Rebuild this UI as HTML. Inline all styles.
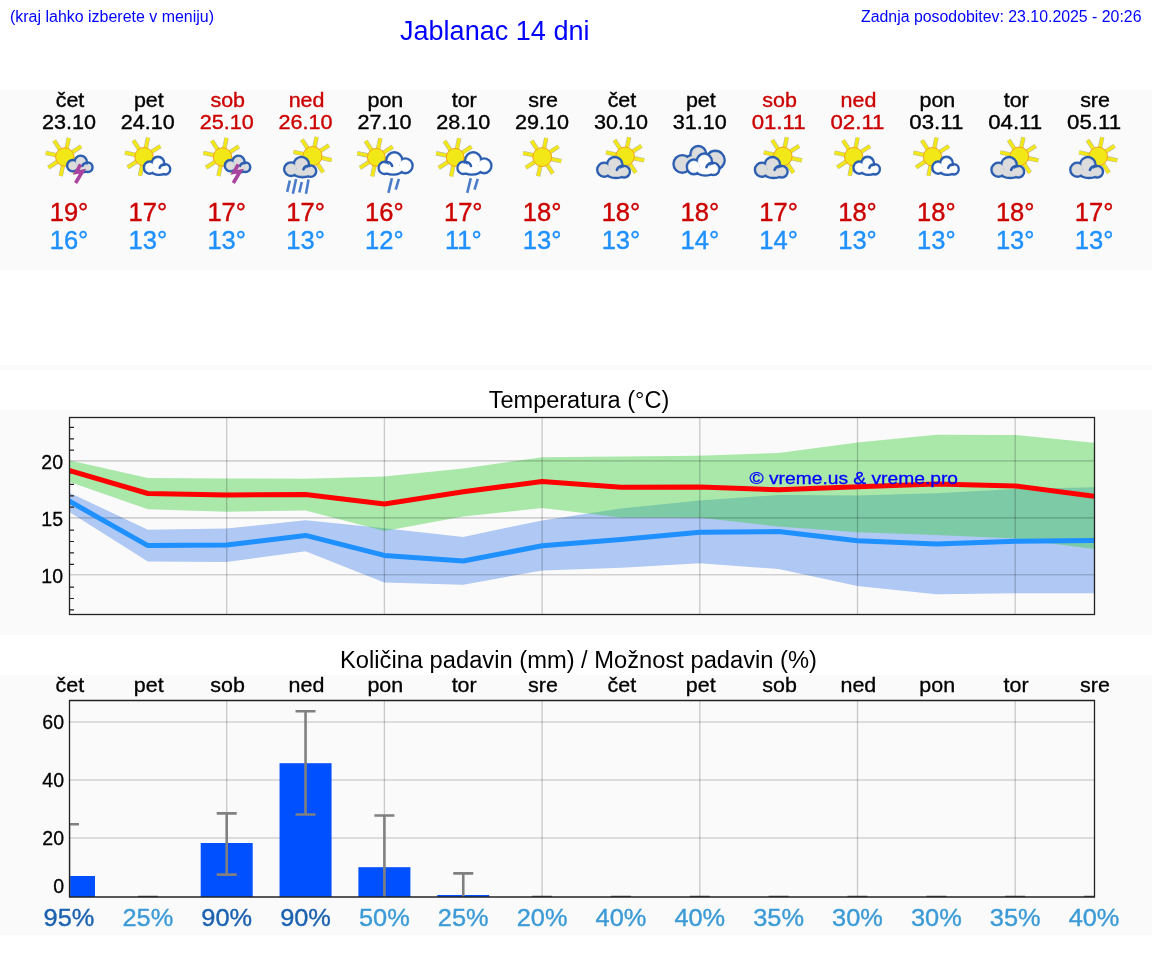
<!DOCTYPE html><html><head><meta charset="utf-8"><title>Jablanac 14 dni</title><style>html,body{margin:0;padding:0;background:#fff;overflow:hidden}svg{display:block;will-change:transform}</style></head><body>
<svg width="1152" height="975" viewBox="0 0 1152 975" font-family="Liberation Sans, sans-serif">
<defs><g id="ic0"><path d="M27.26 17.81L37.15 11.38M22.40 14.47L24.85 2.93M16.61 15.54L10.18 5.65M13.27 20.40L1.73 17.95M14.34 26.19L4.45 32.62M19.20 29.53L16.75 41.07M24.99 28.46L31.42 38.35M28.33 23.60L39.87 26.05" stroke="#8f8d70" stroke-width="4.4" stroke-opacity="0.6"/><path d="M27.26 17.81L37.15 11.38M22.40 14.47L24.85 2.93M16.61 15.54L10.18 5.65M13.27 20.40L1.73 17.95M14.34 26.19L4.45 32.62M19.20 29.53L16.75 41.07M24.99 28.46L31.42 38.35M28.33 23.60L39.87 26.05" stroke="#f2e817" stroke-width="3.3"/><circle cx="20.8" cy="22" r="9.2" fill="#f2e817" stroke="#f5a31a" stroke-width="1"/><g transform="translate(22.80,20.30) scale(0.7618,0.7655)"><circle cx="7.8" cy="13.6" r="5.60" fill="#dcdcdc" stroke="#2a5db0" stroke-width="6.81"/><circle cx="18.3" cy="8.6" r="6.30" fill="#dcdcdc" stroke="#2a5db0" stroke-width="6.81"/><circle cx="27.6" cy="15.6" r="4.40" fill="#dcdcdc" stroke="#2a5db0" stroke-width="6.81"/><ellipse cx="19.5" cy="16.5" rx="8.50" ry="4.00" fill="#dcdcdc" stroke="#2a5db0" stroke-width="6.81"/><circle cx="7.8" cy="13.6" r="5.60" fill="#dcdcdc" stroke="#dcdcdc" stroke-width="0.5"/><circle cx="18.3" cy="8.6" r="6.30" fill="#dcdcdc" stroke="#dcdcdc" stroke-width="0.5"/><circle cx="27.6" cy="15.6" r="4.40" fill="#dcdcdc" stroke="#dcdcdc" stroke-width="0.5"/><ellipse cx="19.5" cy="16.5" rx="8.50" ry="4.00" fill="#dcdcdc" stroke="#dcdcdc" stroke-width="0.5"/><path d="M26.6 10.2A5.3 5.3 0 0 0 20.4 13.8" fill="none" stroke="#2a5db0" stroke-width="3.40" stroke-linecap="round"/></g><path d="M36.6 29.3 L32.2 37.4 L38.6 36.2 L31.6 48" fill="none" stroke="#a8439f" stroke-width="3.6" stroke-linejoin="miter" stroke-miterlimit="3"/></g><g id="ic1"><path d="M27.61 17.51L37.50 11.08M22.75 14.17L25.20 2.63M16.96 15.24L10.53 5.35M13.62 20.10L2.08 17.65M14.69 25.89L4.80 32.32M19.55 29.23L17.10 40.77M25.34 28.16L31.77 38.05M28.68 23.30L40.22 25.75" stroke="#8f8d70" stroke-width="4.4" stroke-opacity="0.6"/><path d="M27.61 17.51L37.50 11.08M22.75 14.17L25.20 2.63M16.96 15.24L10.53 5.35M13.62 20.10L2.08 17.65M14.69 25.89L4.80 32.32M19.55 29.23L17.10 40.77M25.34 28.16L31.77 38.05M28.68 23.30L40.22 25.75" stroke="#f2e817" stroke-width="3.3"/><circle cx="21.15" cy="21.7" r="9.2" fill="#f2e817" stroke="#f5a31a" stroke-width="1"/><g transform="translate(20.60,21.20) scale(0.7941,0.8407)"><circle cx="7.8" cy="13.6" r="5.60" fill="#ffffff" stroke="#2a5db0" stroke-width="6.36"/><circle cx="18.3" cy="8.6" r="6.30" fill="#ffffff" stroke="#2a5db0" stroke-width="6.36"/><circle cx="27.6" cy="15.6" r="4.40" fill="#ffffff" stroke="#2a5db0" stroke-width="6.36"/><ellipse cx="19.5" cy="16.5" rx="8.50" ry="4.00" fill="#ffffff" stroke="#2a5db0" stroke-width="6.36"/><circle cx="7.8" cy="13.6" r="5.60" fill="#ffffff" stroke="#ffffff" stroke-width="0.5"/><circle cx="18.3" cy="8.6" r="6.30" fill="#ffffff" stroke="#ffffff" stroke-width="0.5"/><circle cx="27.6" cy="15.6" r="4.40" fill="#ffffff" stroke="#ffffff" stroke-width="0.5"/><ellipse cx="19.5" cy="16.5" rx="8.50" ry="4.00" fill="#ffffff" stroke="#ffffff" stroke-width="0.5"/><path d="M26.6 10.2A5.3 5.3 0 0 0 20.4 13.8" fill="none" stroke="#2a5db0" stroke-width="3.18" stroke-linecap="round"/></g></g><g id="ic2"><path d="M27.26 17.81L37.15 11.38M22.40 14.47L24.85 2.93M16.61 15.54L10.18 5.65M13.27 20.40L1.73 17.95M14.34 26.19L4.45 32.62M19.20 29.53L16.75 41.07M24.99 28.46L31.42 38.35M28.33 23.60L39.87 26.05" stroke="#8f8d70" stroke-width="4.4" stroke-opacity="0.6"/><path d="M27.26 17.81L37.15 11.38M22.40 14.47L24.85 2.93M16.61 15.54L10.18 5.65M13.27 20.40L1.73 17.95M14.34 26.19L4.45 32.62M19.20 29.53L16.75 41.07M24.99 28.46L31.42 38.35M28.33 23.60L39.87 26.05" stroke="#f2e817" stroke-width="3.3"/><circle cx="20.8" cy="22" r="9.2" fill="#f2e817" stroke="#f5a31a" stroke-width="1"/><g transform="translate(22.80,20.30) scale(0.7618,0.7655)"><circle cx="7.8" cy="13.6" r="5.60" fill="#dcdcdc" stroke="#2a5db0" stroke-width="6.81"/><circle cx="18.3" cy="8.6" r="6.30" fill="#dcdcdc" stroke="#2a5db0" stroke-width="6.81"/><circle cx="27.6" cy="15.6" r="4.40" fill="#dcdcdc" stroke="#2a5db0" stroke-width="6.81"/><ellipse cx="19.5" cy="16.5" rx="8.50" ry="4.00" fill="#dcdcdc" stroke="#2a5db0" stroke-width="6.81"/><circle cx="7.8" cy="13.6" r="5.60" fill="#dcdcdc" stroke="#dcdcdc" stroke-width="0.5"/><circle cx="18.3" cy="8.6" r="6.30" fill="#dcdcdc" stroke="#dcdcdc" stroke-width="0.5"/><circle cx="27.6" cy="15.6" r="4.40" fill="#dcdcdc" stroke="#dcdcdc" stroke-width="0.5"/><ellipse cx="19.5" cy="16.5" rx="8.50" ry="4.00" fill="#dcdcdc" stroke="#dcdcdc" stroke-width="0.5"/><path d="M26.6 10.2A5.3 5.3 0 0 0 20.4 13.8" fill="none" stroke="#2a5db0" stroke-width="3.40" stroke-linecap="round"/></g><path d="M36.6 29.3 L32.2 37.4 L38.6 36.2 L31.6 48" fill="none" stroke="#a8439f" stroke-width="3.6" stroke-linejoin="miter" stroke-miterlimit="3"/></g><g id="ic3"><path d="M38.71 16.64L48.35 10.38M33.66 13.17L36.05 1.93M27.64 14.29L21.38 4.65M24.17 19.34L12.93 16.95M25.29 25.36L15.65 31.62M30.34 28.83L27.95 40.07M36.36 27.71L42.62 37.35M39.83 22.66L51.07 25.05" stroke="#8f8d70" stroke-width="4.4" stroke-opacity="0.6"/><path d="M38.71 16.64L48.35 10.38M33.66 13.17L36.05 1.93M27.64 14.29L21.38 4.65M24.17 19.34L12.93 16.95M25.29 25.36L15.65 31.62M30.34 28.83L27.95 40.07M36.36 27.71L42.62 37.35M39.83 22.66L51.07 25.05" stroke="#f2e817" stroke-width="3.3"/><circle cx="32" cy="21" r="9.5" fill="#f2e817" stroke="#f5a31a" stroke-width="1"/><g transform="translate(2.85,21.00) scale(0.9824,0.9690)"><circle cx="7.8" cy="13.6" r="5.60" fill="#dcdcdc" stroke="#2a5db0" stroke-width="5.33"/><circle cx="18.3" cy="8.6" r="6.30" fill="#dcdcdc" stroke="#2a5db0" stroke-width="5.33"/><circle cx="27.6" cy="15.6" r="4.40" fill="#dcdcdc" stroke="#2a5db0" stroke-width="5.33"/><ellipse cx="19.5" cy="16.5" rx="8.50" ry="4.00" fill="#dcdcdc" stroke="#2a5db0" stroke-width="5.33"/><circle cx="7.8" cy="13.6" r="5.60" fill="#dcdcdc" stroke="#dcdcdc" stroke-width="0.5"/><circle cx="18.3" cy="8.6" r="6.30" fill="#dcdcdc" stroke="#dcdcdc" stroke-width="0.5"/><circle cx="27.6" cy="15.6" r="4.40" fill="#dcdcdc" stroke="#dcdcdc" stroke-width="0.5"/><ellipse cx="19.5" cy="16.5" rx="8.50" ry="4.00" fill="#dcdcdc" stroke="#dcdcdc" stroke-width="0.5"/><path d="M26.6 10.2A5.3 5.3 0 0 0 20.4 13.8" fill="none" stroke="#2a5db0" stroke-width="2.66" stroke-linecap="round"/></g><path d="M9.25 45.5L6.65 56.9M15.55 43.9L12.35 58.8M21.25 47L18.75 57.5M27.95 44.5L25.45 58.8" stroke="#4a7cc9" stroke-width="2.6" stroke-linecap="butt"/></g><g id="ic4"><path d="M23.11 18.27L33.25 11.68M18.44 15.06L20.95 3.23M12.87 16.09L6.28 5.95M9.66 20.76L-2.17 18.25M10.69 26.33L0.55 32.92M15.36 29.54L12.85 41.37M20.93 28.51L27.52 38.65M24.14 23.84L35.97 26.35" stroke="#8f8d70" stroke-width="4.4" stroke-opacity="0.6"/><path d="M23.11 18.27L33.25 11.68M18.44 15.06L20.95 3.23M12.87 16.09L6.28 5.95M9.66 20.76L-2.17 18.25M10.69 26.33L0.55 32.92M15.36 29.54L12.85 41.37M20.93 28.51L27.52 38.65M24.14 23.84L35.97 26.35" stroke="#f2e817" stroke-width="3.3"/><circle cx="16.9" cy="22.3" r="8.9" fill="#f2e817" stroke="#f5a31a" stroke-width="1"/><g transform="translate(54.10,16.20) scale(-1.0471,1.0708)"><circle cx="7.8" cy="13.6" r="5.60" fill="#ffffff" stroke="#2a5db0" stroke-width="4.91"/><circle cx="18.3" cy="8.6" r="6.30" fill="#ffffff" stroke="#2a5db0" stroke-width="4.91"/><circle cx="27.6" cy="15.6" r="4.40" fill="#ffffff" stroke="#2a5db0" stroke-width="4.91"/><ellipse cx="19.5" cy="16.5" rx="8.50" ry="4.00" fill="#ffffff" stroke="#2a5db0" stroke-width="4.91"/><circle cx="7.8" cy="13.6" r="5.60" fill="#ffffff" stroke="#ffffff" stroke-width="0.5"/><circle cx="18.3" cy="8.6" r="6.30" fill="#ffffff" stroke="#ffffff" stroke-width="0.5"/><circle cx="27.6" cy="15.6" r="4.40" fill="#ffffff" stroke="#ffffff" stroke-width="0.5"/><ellipse cx="19.5" cy="16.5" rx="8.50" ry="4.00" fill="#ffffff" stroke="#ffffff" stroke-width="0.5"/><path d="M26.6 10.2A5.3 5.3 0 0 0 20.4 13.8" fill="none" stroke="#2a5db0" stroke-width="2.46" stroke-linecap="round"/></g><path d="M32.5 43.2L29 57.9M39.5 43.9L36.3 54.7" stroke="#4a7cc9" stroke-width="2.6" stroke-linecap="butt"/></g><g id="ic5"><path d="M23.11 18.27L33.25 11.68M18.44 15.06L20.95 3.23M12.87 16.09L6.28 5.95M9.66 20.76L-2.17 18.25M10.69 26.33L0.55 32.92M15.36 29.54L12.85 41.37M20.93 28.51L27.52 38.65M24.14 23.84L35.97 26.35" stroke="#8f8d70" stroke-width="4.4" stroke-opacity="0.6"/><path d="M23.11 18.27L33.25 11.68M18.44 15.06L20.95 3.23M12.87 16.09L6.28 5.95M9.66 20.76L-2.17 18.25M10.69 26.33L0.55 32.92M15.36 29.54L12.85 41.37M20.93 28.51L27.52 38.65M24.14 23.84L35.97 26.35" stroke="#f2e817" stroke-width="3.3"/><circle cx="16.9" cy="22.3" r="8.9" fill="#f2e817" stroke="#f5a31a" stroke-width="1"/><g transform="translate(54.10,16.20) scale(-1.0471,1.0708)"><circle cx="7.8" cy="13.6" r="5.60" fill="#ffffff" stroke="#2a5db0" stroke-width="4.91"/><circle cx="18.3" cy="8.6" r="6.30" fill="#ffffff" stroke="#2a5db0" stroke-width="4.91"/><circle cx="27.6" cy="15.6" r="4.40" fill="#ffffff" stroke="#2a5db0" stroke-width="4.91"/><ellipse cx="19.5" cy="16.5" rx="8.50" ry="4.00" fill="#ffffff" stroke="#2a5db0" stroke-width="4.91"/><circle cx="7.8" cy="13.6" r="5.60" fill="#ffffff" stroke="#ffffff" stroke-width="0.5"/><circle cx="18.3" cy="8.6" r="6.30" fill="#ffffff" stroke="#ffffff" stroke-width="0.5"/><circle cx="27.6" cy="15.6" r="4.40" fill="#ffffff" stroke="#ffffff" stroke-width="0.5"/><ellipse cx="19.5" cy="16.5" rx="8.50" ry="4.00" fill="#ffffff" stroke="#ffffff" stroke-width="0.5"/><path d="M26.6 10.2A5.3 5.3 0 0 0 20.4 13.8" fill="none" stroke="#2a5db0" stroke-width="2.46" stroke-linecap="round"/></g><path d="M32.5 43.2L29 57.9M39.5 43.9L36.3 54.7" stroke="#4a7cc9" stroke-width="2.6" stroke-linecap="butt"/></g><g id="ic6"><path d="M31.73 17.80L41.45 11.48M26.74 14.37L29.15 3.03M20.80 15.47L14.48 5.75M17.37 20.46L6.03 18.05M18.47 26.40L8.75 32.72M23.46 29.83L21.05 41.17M29.40 28.73L35.72 38.45M32.83 23.74L44.17 26.15" stroke="#8f8d70" stroke-width="4.4" stroke-opacity="0.6"/><path d="M31.73 17.80L41.45 11.48M26.74 14.37L29.15 3.03M20.80 15.47L14.48 5.75M17.37 20.46L6.03 18.05M18.47 26.40L8.75 32.72M23.46 29.83L21.05 41.17M29.40 28.73L35.72 38.45M32.83 23.74L44.17 26.15" stroke="#f2e817" stroke-width="3.3"/><circle cx="25.1" cy="22.1" r="9.4" fill="#f2e817" stroke="#f5a31a" stroke-width="1"/></g><g id="ic7"><path d="M35.69 17.15L45.50 10.78M30.77 13.77L33.20 2.33M24.90 14.86L18.53 5.05M21.52 19.78L10.08 17.35M22.61 25.65L12.80 32.02M27.53 29.03L25.10 40.47M33.40 27.94L39.77 37.75M36.78 23.02L48.22 25.45" stroke="#8f8d70" stroke-width="4.4" stroke-opacity="0.6"/><path d="M35.69 17.15L45.50 10.78M30.77 13.77L33.20 2.33M24.90 14.86L18.53 5.05M21.52 19.78L10.08 17.35M22.61 25.65L12.80 32.02M27.53 29.03L25.10 40.47M33.40 27.94L39.77 37.75M36.78 23.02L48.22 25.45" stroke="#f2e817" stroke-width="3.3"/><circle cx="29.15" cy="21.4" r="9.3" fill="#f2e817" stroke="#f5a31a" stroke-width="1"/><g transform="translate(0.45,21.10) scale(1.0029,1.0000)"><circle cx="7.8" cy="13.6" r="5.60" fill="#dcdcdc" stroke="#2a5db0" stroke-width="5.19"/><circle cx="18.3" cy="8.6" r="6.30" fill="#dcdcdc" stroke="#2a5db0" stroke-width="5.19"/><circle cx="27.6" cy="15.6" r="4.40" fill="#dcdcdc" stroke="#2a5db0" stroke-width="5.19"/><ellipse cx="19.5" cy="16.5" rx="8.50" ry="4.00" fill="#dcdcdc" stroke="#2a5db0" stroke-width="5.19"/><circle cx="7.8" cy="13.6" r="5.60" fill="#dcdcdc" stroke="#dcdcdc" stroke-width="0.5"/><circle cx="18.3" cy="8.6" r="6.30" fill="#dcdcdc" stroke="#dcdcdc" stroke-width="0.5"/><circle cx="27.6" cy="15.6" r="4.40" fill="#dcdcdc" stroke="#dcdcdc" stroke-width="0.5"/><ellipse cx="19.5" cy="16.5" rx="8.50" ry="4.00" fill="#dcdcdc" stroke="#dcdcdc" stroke-width="0.5"/><path d="M26.6 10.2A5.3 5.3 0 0 0 20.4 13.8" fill="none" stroke="#2a5db0" stroke-width="2.60" stroke-linecap="round"/></g></g><g id="ic8"><g transform="translate(-2.1,8.3)"><circle cx="9.6" cy="20.6" r="7.40" fill="#dcdcdc" stroke="#2a5db0" stroke-width="5.20"/><circle cx="25.6" cy="10.6" r="6.50" fill="#dcdcdc" stroke="#2a5db0" stroke-width="5.20"/><circle cx="42.6" cy="16.9" r="8.00" fill="#dcdcdc" stroke="#2a5db0" stroke-width="5.20"/><ellipse cx="26" cy="20" rx="14.00" ry="8.30" fill="#dcdcdc" stroke="#2a5db0" stroke-width="5.20"/><circle cx="9.6" cy="20.6" r="7.40" fill="#dcdcdc" stroke="#dcdcdc" stroke-width="0.5"/><circle cx="25.6" cy="10.6" r="6.50" fill="#dcdcdc" stroke="#dcdcdc" stroke-width="0.5"/><circle cx="42.6" cy="16.9" r="8.00" fill="#dcdcdc" stroke="#dcdcdc" stroke-width="0.5"/><ellipse cx="26" cy="20" rx="14.00" ry="8.30" fill="#dcdcdc" stroke="#dcdcdc" stroke-width="0.5"/></g><g transform="translate(11.20,17.50) scale(1.0000,1.0575)"><circle cx="7.8" cy="13.6" r="5.60" fill="#ffffff" stroke="#2a5db0" stroke-width="5.05"/><circle cx="18.3" cy="8.6" r="6.30" fill="#ffffff" stroke="#2a5db0" stroke-width="5.05"/><circle cx="27.6" cy="15.6" r="4.40" fill="#ffffff" stroke="#2a5db0" stroke-width="5.05"/><ellipse cx="19.5" cy="16.5" rx="8.50" ry="4.00" fill="#ffffff" stroke="#2a5db0" stroke-width="5.05"/><circle cx="7.8" cy="13.6" r="5.60" fill="#ffffff" stroke="#ffffff" stroke-width="0.5"/><circle cx="18.3" cy="8.6" r="6.30" fill="#ffffff" stroke="#ffffff" stroke-width="0.5"/><circle cx="27.6" cy="15.6" r="4.40" fill="#ffffff" stroke="#ffffff" stroke-width="0.5"/><ellipse cx="19.5" cy="16.5" rx="8.50" ry="4.00" fill="#ffffff" stroke="#ffffff" stroke-width="0.5"/><path d="M26.6 10.2A5.3 5.3 0 0 0 20.4 13.8" fill="none" stroke="#2a5db0" stroke-width="2.53" stroke-linecap="round"/></g></g><g id="ic9"><path d="M35.69 17.15L45.50 10.78M30.77 13.77L33.20 2.33M24.90 14.86L18.53 5.05M21.52 19.78L10.08 17.35M22.61 25.65L12.80 32.02M27.53 29.03L25.10 40.47M33.40 27.94L39.77 37.75M36.78 23.02L48.22 25.45" stroke="#8f8d70" stroke-width="4.4" stroke-opacity="0.6"/><path d="M35.69 17.15L45.50 10.78M30.77 13.77L33.20 2.33M24.90 14.86L18.53 5.05M21.52 19.78L10.08 17.35M22.61 25.65L12.80 32.02M27.53 29.03L25.10 40.47M33.40 27.94L39.77 37.75M36.78 23.02L48.22 25.45" stroke="#f2e817" stroke-width="3.3"/><circle cx="29.15" cy="21.4" r="9.3" fill="#f2e817" stroke="#f5a31a" stroke-width="1"/><g transform="translate(0.45,21.10) scale(1.0029,1.0000)"><circle cx="7.8" cy="13.6" r="5.60" fill="#dcdcdc" stroke="#2a5db0" stroke-width="5.19"/><circle cx="18.3" cy="8.6" r="6.30" fill="#dcdcdc" stroke="#2a5db0" stroke-width="5.19"/><circle cx="27.6" cy="15.6" r="4.40" fill="#dcdcdc" stroke="#2a5db0" stroke-width="5.19"/><ellipse cx="19.5" cy="16.5" rx="8.50" ry="4.00" fill="#dcdcdc" stroke="#2a5db0" stroke-width="5.19"/><circle cx="7.8" cy="13.6" r="5.60" fill="#dcdcdc" stroke="#dcdcdc" stroke-width="0.5"/><circle cx="18.3" cy="8.6" r="6.30" fill="#dcdcdc" stroke="#dcdcdc" stroke-width="0.5"/><circle cx="27.6" cy="15.6" r="4.40" fill="#dcdcdc" stroke="#dcdcdc" stroke-width="0.5"/><ellipse cx="19.5" cy="16.5" rx="8.50" ry="4.00" fill="#dcdcdc" stroke="#dcdcdc" stroke-width="0.5"/><path d="M26.6 10.2A5.3 5.3 0 0 0 20.4 13.8" fill="none" stroke="#2a5db0" stroke-width="2.60" stroke-linecap="round"/></g></g><g id="ic10"><path d="M27.61 17.51L37.50 11.08M22.75 14.17L25.20 2.63M16.96 15.24L10.53 5.35M13.62 20.10L2.08 17.65M14.69 25.89L4.80 32.32M19.55 29.23L17.10 40.77M25.34 28.16L31.77 38.05M28.68 23.30L40.22 25.75" stroke="#8f8d70" stroke-width="4.4" stroke-opacity="0.6"/><path d="M27.61 17.51L37.50 11.08M22.75 14.17L25.20 2.63M16.96 15.24L10.53 5.35M13.62 20.10L2.08 17.65M14.69 25.89L4.80 32.32M19.55 29.23L17.10 40.77M25.34 28.16L31.77 38.05M28.68 23.30L40.22 25.75" stroke="#f2e817" stroke-width="3.3"/><circle cx="21.15" cy="21.7" r="9.2" fill="#f2e817" stroke="#f5a31a" stroke-width="1"/><g transform="translate(20.60,21.20) scale(0.7941,0.8407)"><circle cx="7.8" cy="13.6" r="5.60" fill="#ffffff" stroke="#2a5db0" stroke-width="6.36"/><circle cx="18.3" cy="8.6" r="6.30" fill="#ffffff" stroke="#2a5db0" stroke-width="6.36"/><circle cx="27.6" cy="15.6" r="4.40" fill="#ffffff" stroke="#2a5db0" stroke-width="6.36"/><ellipse cx="19.5" cy="16.5" rx="8.50" ry="4.00" fill="#ffffff" stroke="#2a5db0" stroke-width="6.36"/><circle cx="7.8" cy="13.6" r="5.60" fill="#ffffff" stroke="#ffffff" stroke-width="0.5"/><circle cx="18.3" cy="8.6" r="6.30" fill="#ffffff" stroke="#ffffff" stroke-width="0.5"/><circle cx="27.6" cy="15.6" r="4.40" fill="#ffffff" stroke="#ffffff" stroke-width="0.5"/><ellipse cx="19.5" cy="16.5" rx="8.50" ry="4.00" fill="#ffffff" stroke="#ffffff" stroke-width="0.5"/><path d="M26.6 10.2A5.3 5.3 0 0 0 20.4 13.8" fill="none" stroke="#2a5db0" stroke-width="3.18" stroke-linecap="round"/></g></g><g id="ic11"><path d="M27.61 17.51L37.50 11.08M22.75 14.17L25.20 2.63M16.96 15.24L10.53 5.35M13.62 20.10L2.08 17.65M14.69 25.89L4.80 32.32M19.55 29.23L17.10 40.77M25.34 28.16L31.77 38.05M28.68 23.30L40.22 25.75" stroke="#8f8d70" stroke-width="4.4" stroke-opacity="0.6"/><path d="M27.61 17.51L37.50 11.08M22.75 14.17L25.20 2.63M16.96 15.24L10.53 5.35M13.62 20.10L2.08 17.65M14.69 25.89L4.80 32.32M19.55 29.23L17.10 40.77M25.34 28.16L31.77 38.05M28.68 23.30L40.22 25.75" stroke="#f2e817" stroke-width="3.3"/><circle cx="21.15" cy="21.7" r="9.2" fill="#f2e817" stroke="#f5a31a" stroke-width="1"/><g transform="translate(20.60,21.20) scale(0.7941,0.8407)"><circle cx="7.8" cy="13.6" r="5.60" fill="#ffffff" stroke="#2a5db0" stroke-width="6.36"/><circle cx="18.3" cy="8.6" r="6.30" fill="#ffffff" stroke="#2a5db0" stroke-width="6.36"/><circle cx="27.6" cy="15.6" r="4.40" fill="#ffffff" stroke="#2a5db0" stroke-width="6.36"/><ellipse cx="19.5" cy="16.5" rx="8.50" ry="4.00" fill="#ffffff" stroke="#2a5db0" stroke-width="6.36"/><circle cx="7.8" cy="13.6" r="5.60" fill="#ffffff" stroke="#ffffff" stroke-width="0.5"/><circle cx="18.3" cy="8.6" r="6.30" fill="#ffffff" stroke="#ffffff" stroke-width="0.5"/><circle cx="27.6" cy="15.6" r="4.40" fill="#ffffff" stroke="#ffffff" stroke-width="0.5"/><ellipse cx="19.5" cy="16.5" rx="8.50" ry="4.00" fill="#ffffff" stroke="#ffffff" stroke-width="0.5"/><path d="M26.6 10.2A5.3 5.3 0 0 0 20.4 13.8" fill="none" stroke="#2a5db0" stroke-width="3.18" stroke-linecap="round"/></g></g><g id="ic12"><path d="M35.69 17.15L45.50 10.78M30.77 13.77L33.20 2.33M24.90 14.86L18.53 5.05M21.52 19.78L10.08 17.35M22.61 25.65L12.80 32.02M27.53 29.03L25.10 40.47M33.40 27.94L39.77 37.75M36.78 23.02L48.22 25.45" stroke="#8f8d70" stroke-width="4.4" stroke-opacity="0.6"/><path d="M35.69 17.15L45.50 10.78M30.77 13.77L33.20 2.33M24.90 14.86L18.53 5.05M21.52 19.78L10.08 17.35M22.61 25.65L12.80 32.02M27.53 29.03L25.10 40.47M33.40 27.94L39.77 37.75M36.78 23.02L48.22 25.45" stroke="#f2e817" stroke-width="3.3"/><circle cx="29.15" cy="21.4" r="9.3" fill="#f2e817" stroke="#f5a31a" stroke-width="1"/><g transform="translate(0.45,21.10) scale(1.0029,1.0000)"><circle cx="7.8" cy="13.6" r="5.60" fill="#dcdcdc" stroke="#2a5db0" stroke-width="5.19"/><circle cx="18.3" cy="8.6" r="6.30" fill="#dcdcdc" stroke="#2a5db0" stroke-width="5.19"/><circle cx="27.6" cy="15.6" r="4.40" fill="#dcdcdc" stroke="#2a5db0" stroke-width="5.19"/><ellipse cx="19.5" cy="16.5" rx="8.50" ry="4.00" fill="#dcdcdc" stroke="#2a5db0" stroke-width="5.19"/><circle cx="7.8" cy="13.6" r="5.60" fill="#dcdcdc" stroke="#dcdcdc" stroke-width="0.5"/><circle cx="18.3" cy="8.6" r="6.30" fill="#dcdcdc" stroke="#dcdcdc" stroke-width="0.5"/><circle cx="27.6" cy="15.6" r="4.40" fill="#dcdcdc" stroke="#dcdcdc" stroke-width="0.5"/><ellipse cx="19.5" cy="16.5" rx="8.50" ry="4.00" fill="#dcdcdc" stroke="#dcdcdc" stroke-width="0.5"/><path d="M26.6 10.2A5.3 5.3 0 0 0 20.4 13.8" fill="none" stroke="#2a5db0" stroke-width="2.60" stroke-linecap="round"/></g></g><g id="ic13"><path d="M35.69 17.15L45.50 10.78M30.77 13.77L33.20 2.33M24.90 14.86L18.53 5.05M21.52 19.78L10.08 17.35M22.61 25.65L12.80 32.02M27.53 29.03L25.10 40.47M33.40 27.94L39.77 37.75M36.78 23.02L48.22 25.45" stroke="#8f8d70" stroke-width="4.4" stroke-opacity="0.6"/><path d="M35.69 17.15L45.50 10.78M30.77 13.77L33.20 2.33M24.90 14.86L18.53 5.05M21.52 19.78L10.08 17.35M22.61 25.65L12.80 32.02M27.53 29.03L25.10 40.47M33.40 27.94L39.77 37.75M36.78 23.02L48.22 25.45" stroke="#f2e817" stroke-width="3.3"/><circle cx="29.15" cy="21.4" r="9.3" fill="#f2e817" stroke="#f5a31a" stroke-width="1"/><g transform="translate(0.45,21.10) scale(1.0029,1.0000)"><circle cx="7.8" cy="13.6" r="5.60" fill="#dcdcdc" stroke="#2a5db0" stroke-width="5.19"/><circle cx="18.3" cy="8.6" r="6.30" fill="#dcdcdc" stroke="#2a5db0" stroke-width="5.19"/><circle cx="27.6" cy="15.6" r="4.40" fill="#dcdcdc" stroke="#2a5db0" stroke-width="5.19"/><ellipse cx="19.5" cy="16.5" rx="8.50" ry="4.00" fill="#dcdcdc" stroke="#2a5db0" stroke-width="5.19"/><circle cx="7.8" cy="13.6" r="5.60" fill="#dcdcdc" stroke="#dcdcdc" stroke-width="0.5"/><circle cx="18.3" cy="8.6" r="6.30" fill="#dcdcdc" stroke="#dcdcdc" stroke-width="0.5"/><circle cx="27.6" cy="15.6" r="4.40" fill="#dcdcdc" stroke="#dcdcdc" stroke-width="0.5"/><ellipse cx="19.5" cy="16.5" rx="8.50" ry="4.00" fill="#dcdcdc" stroke="#dcdcdc" stroke-width="0.5"/><path d="M26.6 10.2A5.3 5.3 0 0 0 20.4 13.8" fill="none" stroke="#2a5db0" stroke-width="2.60" stroke-linecap="round"/></g></g></defs>
<text x="10" y="21.5" font-size="16" fill="#0000ff" textLength="204" lengthAdjust="spacingAndGlyphs">(kraj lahko izberete v meniju)</text>
<text x="400" y="40" font-size="27" fill="#0000ff" textLength="189.5" lengthAdjust="spacingAndGlyphs">Jablanac 14 dni</text>
<text x="861" y="22" font-size="16" fill="#0000ff" textLength="280.5" lengthAdjust="spacingAndGlyphs">Zadnja posodobitev: 23.10.2025 - 20:26</text>
<rect x="0" y="90" width="1152" height="180" fill="#fafafa"/>
<text transform="matrix(1.1,0,0,1,-5.90,0)" x="69.00" y="107" font-size="19.5" fill="#000" stroke="#000" stroke-width="0.35" text-anchor="middle">čet</text>
<text x="69.00" y="129" font-size="19.5" fill="#000" stroke="#000" stroke-width="0.35" text-anchor="middle" textLength="54" lengthAdjust="spacingAndGlyphs">23.10</text>
<text x="69.00" y="221" font-size="25.5" fill="#cc0000" stroke="#cc0000" stroke-width="0.4" text-anchor="middle">19°</text>
<text x="69.00" y="249" font-size="25.5" fill="#1e90ff" stroke="#1e90ff" stroke-width="0.4" text-anchor="middle">16°</text>
<use href="#ic0" x="44.00" y="135"/>
<text transform="matrix(1.1,0,0,1,-13.79,0)" x="147.85" y="107" font-size="19.5" fill="#000" stroke="#000" stroke-width="0.35" text-anchor="middle">pet</text>
<text x="147.85" y="129" font-size="19.5" fill="#000" stroke="#000" stroke-width="0.35" text-anchor="middle" textLength="54" lengthAdjust="spacingAndGlyphs">24.10</text>
<text x="147.85" y="221" font-size="25.5" fill="#cc0000" stroke="#cc0000" stroke-width="0.4" text-anchor="middle">17°</text>
<text x="147.85" y="249" font-size="25.5" fill="#1e90ff" stroke="#1e90ff" stroke-width="0.4" text-anchor="middle">13°</text>
<use href="#ic1" x="122.85" y="135"/>
<text transform="matrix(1.1,0,0,1,-21.67,0)" x="226.70" y="107" font-size="19.5" fill="#cc0000" stroke="#cc0000" stroke-width="0.35" text-anchor="middle">sob</text>
<text x="226.70" y="129" font-size="19.5" fill="#cc0000" stroke="#cc0000" stroke-width="0.35" text-anchor="middle" textLength="54" lengthAdjust="spacingAndGlyphs">25.10</text>
<text x="226.70" y="221" font-size="25.5" fill="#cc0000" stroke="#cc0000" stroke-width="0.4" text-anchor="middle">17°</text>
<text x="226.70" y="249" font-size="25.5" fill="#1e90ff" stroke="#1e90ff" stroke-width="0.4" text-anchor="middle">13°</text>
<use href="#ic2" x="201.70" y="135"/>
<text transform="matrix(1.1,0,0,1,-29.55,0)" x="305.55" y="107" font-size="19.5" fill="#cc0000" stroke="#cc0000" stroke-width="0.35" text-anchor="middle">ned</text>
<text x="305.55" y="129" font-size="19.5" fill="#cc0000" stroke="#cc0000" stroke-width="0.35" text-anchor="middle" textLength="54" lengthAdjust="spacingAndGlyphs">26.10</text>
<text x="305.55" y="221" font-size="25.5" fill="#cc0000" stroke="#cc0000" stroke-width="0.4" text-anchor="middle">17°</text>
<text x="305.55" y="249" font-size="25.5" fill="#1e90ff" stroke="#1e90ff" stroke-width="0.4" text-anchor="middle">13°</text>
<use href="#ic3" x="280.55" y="135"/>
<text transform="matrix(1.1,0,0,1,-37.44,0)" x="384.40" y="107" font-size="19.5" fill="#000" stroke="#000" stroke-width="0.35" text-anchor="middle">pon</text>
<text x="384.40" y="129" font-size="19.5" fill="#000" stroke="#000" stroke-width="0.35" text-anchor="middle" textLength="54" lengthAdjust="spacingAndGlyphs">27.10</text>
<text x="384.40" y="221" font-size="25.5" fill="#cc0000" stroke="#cc0000" stroke-width="0.4" text-anchor="middle">16°</text>
<text x="384.40" y="249" font-size="25.5" fill="#1e90ff" stroke="#1e90ff" stroke-width="0.4" text-anchor="middle">12°</text>
<use href="#ic4" x="359.40" y="135"/>
<text transform="matrix(1.1,0,0,1,-45.33,0)" x="463.25" y="107" font-size="19.5" fill="#000" stroke="#000" stroke-width="0.35" text-anchor="middle">tor</text>
<text x="463.25" y="129" font-size="19.5" fill="#000" stroke="#000" stroke-width="0.35" text-anchor="middle" textLength="54" lengthAdjust="spacingAndGlyphs">28.10</text>
<text x="463.25" y="221" font-size="25.5" fill="#cc0000" stroke="#cc0000" stroke-width="0.4" text-anchor="middle">17°</text>
<text x="463.25" y="249" font-size="25.5" fill="#1e90ff" stroke="#1e90ff" stroke-width="0.4" text-anchor="middle">11°</text>
<use href="#ic5" x="438.25" y="135"/>
<text transform="matrix(1.1,0,0,1,-53.21,0)" x="542.10" y="107" font-size="19.5" fill="#000" stroke="#000" stroke-width="0.35" text-anchor="middle">sre</text>
<text x="542.10" y="129" font-size="19.5" fill="#000" stroke="#000" stroke-width="0.35" text-anchor="middle" textLength="54" lengthAdjust="spacingAndGlyphs">29.10</text>
<text x="542.10" y="221" font-size="25.5" fill="#cc0000" stroke="#cc0000" stroke-width="0.4" text-anchor="middle">18°</text>
<text x="542.10" y="249" font-size="25.5" fill="#1e90ff" stroke="#1e90ff" stroke-width="0.4" text-anchor="middle">13°</text>
<use href="#ic6" x="517.10" y="135"/>
<text transform="matrix(1.1,0,0,1,-61.09,0)" x="620.95" y="107" font-size="19.5" fill="#000" stroke="#000" stroke-width="0.35" text-anchor="middle">čet</text>
<text x="620.95" y="129" font-size="19.5" fill="#000" stroke="#000" stroke-width="0.35" text-anchor="middle" textLength="54" lengthAdjust="spacingAndGlyphs">30.10</text>
<text x="620.95" y="221" font-size="25.5" fill="#cc0000" stroke="#cc0000" stroke-width="0.4" text-anchor="middle">18°</text>
<text x="620.95" y="249" font-size="25.5" fill="#1e90ff" stroke="#1e90ff" stroke-width="0.4" text-anchor="middle">13°</text>
<use href="#ic7" x="595.95" y="135"/>
<text transform="matrix(1.1,0,0,1,-68.98,0)" x="699.80" y="107" font-size="19.5" fill="#000" stroke="#000" stroke-width="0.35" text-anchor="middle">pet</text>
<text x="699.80" y="129" font-size="19.5" fill="#000" stroke="#000" stroke-width="0.35" text-anchor="middle" textLength="54" lengthAdjust="spacingAndGlyphs">31.10</text>
<text x="699.80" y="221" font-size="25.5" fill="#cc0000" stroke="#cc0000" stroke-width="0.4" text-anchor="middle">18°</text>
<text x="699.80" y="249" font-size="25.5" fill="#1e90ff" stroke="#1e90ff" stroke-width="0.4" text-anchor="middle">14°</text>
<use href="#ic8" x="674.80" y="135"/>
<text transform="matrix(1.1,0,0,1,-76.87,0)" x="778.65" y="107" font-size="19.5" fill="#cc0000" stroke="#cc0000" stroke-width="0.35" text-anchor="middle">sob</text>
<text x="778.65" y="129" font-size="19.5" fill="#cc0000" stroke="#cc0000" stroke-width="0.35" text-anchor="middle" textLength="54" lengthAdjust="spacingAndGlyphs">01.11</text>
<text x="778.65" y="221" font-size="25.5" fill="#cc0000" stroke="#cc0000" stroke-width="0.4" text-anchor="middle">17°</text>
<text x="778.65" y="249" font-size="25.5" fill="#1e90ff" stroke="#1e90ff" stroke-width="0.4" text-anchor="middle">14°</text>
<use href="#ic9" x="753.65" y="135"/>
<text transform="matrix(1.1,0,0,1,-84.75,0)" x="857.50" y="107" font-size="19.5" fill="#cc0000" stroke="#cc0000" stroke-width="0.35" text-anchor="middle">ned</text>
<text x="857.50" y="129" font-size="19.5" fill="#cc0000" stroke="#cc0000" stroke-width="0.35" text-anchor="middle" textLength="54" lengthAdjust="spacingAndGlyphs">02.11</text>
<text x="857.50" y="221" font-size="25.5" fill="#cc0000" stroke="#cc0000" stroke-width="0.4" text-anchor="middle">18°</text>
<text x="857.50" y="249" font-size="25.5" fill="#1e90ff" stroke="#1e90ff" stroke-width="0.4" text-anchor="middle">13°</text>
<use href="#ic10" x="832.50" y="135"/>
<text transform="matrix(1.1,0,0,1,-92.63,0)" x="936.35" y="107" font-size="19.5" fill="#000" stroke="#000" stroke-width="0.35" text-anchor="middle">pon</text>
<text x="936.35" y="129" font-size="19.5" fill="#000" stroke="#000" stroke-width="0.35" text-anchor="middle" textLength="54" lengthAdjust="spacingAndGlyphs">03.11</text>
<text x="936.35" y="221" font-size="25.5" fill="#cc0000" stroke="#cc0000" stroke-width="0.4" text-anchor="middle">18°</text>
<text x="936.35" y="249" font-size="25.5" fill="#1e90ff" stroke="#1e90ff" stroke-width="0.4" text-anchor="middle">13°</text>
<use href="#ic11" x="911.35" y="135"/>
<text transform="matrix(1.1,0,0,1,-100.52,0)" x="1015.20" y="107" font-size="19.5" fill="#000" stroke="#000" stroke-width="0.35" text-anchor="middle">tor</text>
<text x="1015.20" y="129" font-size="19.5" fill="#000" stroke="#000" stroke-width="0.35" text-anchor="middle" textLength="54" lengthAdjust="spacingAndGlyphs">04.11</text>
<text x="1015.20" y="221" font-size="25.5" fill="#cc0000" stroke="#cc0000" stroke-width="0.4" text-anchor="middle">18°</text>
<text x="1015.20" y="249" font-size="25.5" fill="#1e90ff" stroke="#1e90ff" stroke-width="0.4" text-anchor="middle">13°</text>
<use href="#ic12" x="990.20" y="135"/>
<text transform="matrix(1.1,0,0,1,-108.41,0)" x="1094.05" y="107" font-size="19.5" fill="#000" stroke="#000" stroke-width="0.35" text-anchor="middle">sre</text>
<text x="1094.05" y="129" font-size="19.5" fill="#000" stroke="#000" stroke-width="0.35" text-anchor="middle" textLength="54" lengthAdjust="spacingAndGlyphs">05.11</text>
<text x="1094.05" y="221" font-size="25.5" fill="#cc0000" stroke="#cc0000" stroke-width="0.4" text-anchor="middle">17°</text>
<text x="1094.05" y="249" font-size="25.5" fill="#1e90ff" stroke="#1e90ff" stroke-width="0.4" text-anchor="middle">13°</text>
<use href="#ic13" x="1069.05" y="135"/>
<rect x="0" y="365" width="1152" height="5" fill="#fafafa"/>
<rect x="0" y="410" width="1152" height="225" fill="#fafafa"/>
<text x="579" y="408" font-size="23.5" fill="#000" text-anchor="middle">Temperatura (°C)</text>
<polygon points="69.00,492.4 147.85,529.8 226.70,528.5 305.55,520.2 384.40,528.3 463.25,536.9 542.10,520.4 620.95,508.5 699.80,500.6 778.65,495.0 857.50,495.6 936.35,493.3 1015.20,489.0 1094.05,487.2 1094.05,593.2 1015.20,593.3 936.35,594.2 857.50,585.9 778.65,569.0 699.80,563.3 620.95,567.8 542.10,570.4 463.25,584.7 384.40,582.5 305.55,551.2 226.70,561.9 147.85,561.4 69.00,511.8" fill="#6495ed" fill-opacity="0.5"/>
<polygon points="69.00,460.3 147.85,477.9 226.70,478.4 305.55,478.8 384.40,476.4 463.25,468.5 542.10,457.2 620.95,456.6 699.80,455.7 778.65,453.0 857.50,442.6 936.35,434.7 1015.20,435.0 1094.05,442.8 1094.05,549.0 1015.20,538.6 936.35,535.1 857.50,532.2 778.65,526.5 699.80,517.7 620.95,517.5 542.10,508.0 463.25,516.6 384.40,531.0 305.55,510.4 226.70,511.8 147.85,509.3 69.00,481.8" fill="#32cd32" fill-opacity="0.4"/>
<path d="M69.5 574.8H1094 M69.5 517.9H1094 M69.5 460.9H1094" stroke="#000" stroke-opacity="0.16" stroke-width="1.6" fill="none"/>
<path d="M226.70 417V614 M384.40 417V614 M542.10 417V614 M699.80 417V614 M857.50 417V614 M1015.20 417V614" stroke="#000" stroke-opacity="0.2" stroke-width="1.3" fill="none"/>
<path d="M69 609.9h5 M69 598.5h5 M69 587.1h5 M69 564.3h5 M69 552.9h5 M69 541.5h5 M69 530.1h5 M69 507.2h5 M69 495.8h5 M69 484.4h5 M69 473.0h5 M69 450.2h5 M69 438.8h5 M69 427.4h5" stroke="#222" stroke-width="1.2"/>
<clipPath id="tc"><rect x="69.5" y="417.5" width="1025" height="196.5"/></clipPath>
<g clip-path="url(#tc)"><polyline points="69.00,470.5 147.85,493.5 226.70,495.1 305.55,494.4 384.40,504.0 463.25,491.8 542.10,481.4 620.95,487.3 699.80,487.0 778.65,489.7 857.50,486.8 936.35,483.9 1015.20,486.0 1094.05,496.2" fill="none" stroke="#ff0000" stroke-width="5" stroke-linejoin="round"/>
<polyline points="69.00,501.0 147.85,545.6 226.70,545.0 305.55,535.4 384.40,555.4 463.25,561.0 542.10,545.8 620.95,539.6 699.80,532.2 778.65,531.5 857.50,540.7 936.35,544.1 1015.20,541.3 1094.05,540.4" fill="none" stroke="#1e90ff" stroke-width="5" stroke-linejoin="round"/></g>
<rect x="69.5" y="417.5" width="1025" height="197" fill="none" stroke="#222" stroke-width="1.3"/>
<text x="63" y="582.8" font-size="19.5" fill="#000" stroke="#000" stroke-width="0.3" text-anchor="end">10</text>
<text x="63" y="525.9" font-size="19.5" fill="#000" stroke="#000" stroke-width="0.3" text-anchor="end">15</text>
<text x="63" y="468.9" font-size="19.5" fill="#000" stroke="#000" stroke-width="0.3" text-anchor="end">20</text>
<text x="749.5" y="484" font-size="17" fill="#0000ff" stroke="#0000ff" stroke-width="0.3" textLength="208.5" lengthAdjust="spacingAndGlyphs">© vreme.us &amp; vreme.pro</text>
<rect x="0" y="675" width="1152" height="260" fill="#fafafa"/>
<text x="340" y="668" font-size="23.5" fill="#000" textLength="477" lengthAdjust="spacingAndGlyphs">Količina padavin (mm) / Možnost padavin (%)</text>
<text transform="matrix(1.1,0,0,1,-6.00,0)" x="69.00" y="692" font-size="19.5" fill="#000" stroke="#000" stroke-width="0.3" text-anchor="middle">čet</text>
<text transform="matrix(1.1,0,0,1,-13.88,0)" x="147.85" y="692" font-size="19.5" fill="#000" stroke="#000" stroke-width="0.3" text-anchor="middle">pet</text>
<text transform="matrix(1.1,0,0,1,-21.77,0)" x="226.70" y="692" font-size="19.5" fill="#000" stroke="#000" stroke-width="0.3" text-anchor="middle">sob</text>
<text transform="matrix(1.1,0,0,1,-29.65,0)" x="305.55" y="692" font-size="19.5" fill="#000" stroke="#000" stroke-width="0.3" text-anchor="middle">ned</text>
<text transform="matrix(1.1,0,0,1,-37.54,0)" x="384.40" y="692" font-size="19.5" fill="#000" stroke="#000" stroke-width="0.3" text-anchor="middle">pon</text>
<text transform="matrix(1.1,0,0,1,-45.43,0)" x="463.25" y="692" font-size="19.5" fill="#000" stroke="#000" stroke-width="0.3" text-anchor="middle">tor</text>
<text transform="matrix(1.1,0,0,1,-53.31,0)" x="542.10" y="692" font-size="19.5" fill="#000" stroke="#000" stroke-width="0.3" text-anchor="middle">sre</text>
<text transform="matrix(1.1,0,0,1,-61.20,0)" x="620.95" y="692" font-size="19.5" fill="#000" stroke="#000" stroke-width="0.3" text-anchor="middle">čet</text>
<text transform="matrix(1.1,0,0,1,-69.08,0)" x="699.80" y="692" font-size="19.5" fill="#000" stroke="#000" stroke-width="0.3" text-anchor="middle">pet</text>
<text transform="matrix(1.1,0,0,1,-76.97,0)" x="778.65" y="692" font-size="19.5" fill="#000" stroke="#000" stroke-width="0.3" text-anchor="middle">sob</text>
<text transform="matrix(1.1,0,0,1,-84.85,0)" x="857.50" y="692" font-size="19.5" fill="#000" stroke="#000" stroke-width="0.3" text-anchor="middle">ned</text>
<text transform="matrix(1.1,0,0,1,-92.73,0)" x="936.35" y="692" font-size="19.5" fill="#000" stroke="#000" stroke-width="0.3" text-anchor="middle">pon</text>
<text transform="matrix(1.1,0,0,1,-100.62,0)" x="1015.20" y="692" font-size="19.5" fill="#000" stroke="#000" stroke-width="0.3" text-anchor="middle">tor</text>
<text transform="matrix(1.1,0,0,1,-108.50,0)" x="1094.05" y="692" font-size="19.5" fill="#000" stroke="#000" stroke-width="0.3" text-anchor="middle">sre</text>
<path d="M69.5 722H1094 M69.5 780H1094 M69.5 838H1094" stroke="#000" stroke-opacity="0.16" stroke-width="1.6" fill="none"/>
<path d="M226.70 700V897 M384.40 700V897 M542.10 700V897 M699.80 700V897 M857.50 700V897 M1015.20 700V897" stroke="#000" stroke-opacity="0.2" stroke-width="1.3" fill="none"/>
<g fill="#0050ff">
<rect x="69.50" y="876" width="25.50" height="21.0"/>
<rect x="200.70" y="843" width="52.00" height="54.0"/>
<rect x="279.55" y="763.2" width="52.00" height="133.8"/>
<rect x="358.40" y="867.2" width="52.00" height="29.8"/>
<rect x="437.25" y="895" width="52.00" height="2.0"/>
</g>
<clipPath id="pc"><rect x="69.5" y="700" width="1025" height="197"/></clipPath>
<path clip-path="url(#pc)" d="M69.00 824.3V897 M59.00 824.3h20 M226.70 813.4V874.6 M216.70 813.4h20 M216.70 874.6h20 M305.55 711.3V814.5 M295.55 711.3h20 M295.55 814.5h20 M384.40 815.5V897 M374.40 815.5h20 M463.25 873.4V897 M453.25 873.4h20" stroke="#808080" stroke-width="2.6" fill="none"/>
<path clip-path="url(#pc)" d="M137.85 896.5h20 M532.10 896.5h20 M610.95 896.5h20 M689.80 896.5h20 M768.65 896.5h20 M847.50 896.5h20 M926.35 896.5h20 M1005.20 896.5h20 M1084.05 896.5h20" stroke="#555" stroke-width="1.5" fill="none"/>
<path d="M69.5 897V700.5H1094.5V897" fill="none" stroke="#222" stroke-width="1.3"/>
<path d="M69 897H1095" stroke="#222" stroke-width="1.3"/>
<text x="64" y="729.0" font-size="19.5" fill="#000" stroke="#000" stroke-width="0.3" text-anchor="end">60</text>
<text x="64" y="787.0" font-size="19.5" fill="#000" stroke="#000" stroke-width="0.3" text-anchor="end">40</text>
<text x="64" y="845.0" font-size="19.5" fill="#000" stroke="#000" stroke-width="0.3" text-anchor="end">20</text>
<text x="64" y="893.0" font-size="19.5" fill="#000" stroke="#000" stroke-width="0.3" text-anchor="end">0</text>
<text transform="matrix(1.08,0,0,1,-5.52,0)" x="69.00" y="926.5" font-size="23.5" fill="#1b62b0" stroke="#1b62b0" stroke-width="0.35" text-anchor="middle">95%</text>
<text transform="matrix(1.08,0,0,1,-11.83,0)" x="147.85" y="926.5" font-size="23.5" fill="#3c9bd6" stroke="#3c9bd6" stroke-width="0.35" text-anchor="middle">25%</text>
<text transform="matrix(1.08,0,0,1,-18.14,0)" x="226.70" y="926.5" font-size="23.5" fill="#1b62b0" stroke="#1b62b0" stroke-width="0.35" text-anchor="middle">90%</text>
<text transform="matrix(1.08,0,0,1,-24.44,0)" x="305.55" y="926.5" font-size="23.5" fill="#1b62b0" stroke="#1b62b0" stroke-width="0.35" text-anchor="middle">90%</text>
<text transform="matrix(1.08,0,0,1,-30.75,0)" x="384.40" y="926.5" font-size="23.5" fill="#3c9bd6" stroke="#3c9bd6" stroke-width="0.35" text-anchor="middle">50%</text>
<text transform="matrix(1.08,0,0,1,-37.06,0)" x="463.25" y="926.5" font-size="23.5" fill="#3c9bd6" stroke="#3c9bd6" stroke-width="0.35" text-anchor="middle">25%</text>
<text transform="matrix(1.08,0,0,1,-43.37,0)" x="542.10" y="926.5" font-size="23.5" fill="#3c9bd6" stroke="#3c9bd6" stroke-width="0.35" text-anchor="middle">20%</text>
<text transform="matrix(1.08,0,0,1,-49.68,0)" x="620.95" y="926.5" font-size="23.5" fill="#3c9bd6" stroke="#3c9bd6" stroke-width="0.35" text-anchor="middle">40%</text>
<text transform="matrix(1.08,0,0,1,-55.98,0)" x="699.80" y="926.5" font-size="23.5" fill="#3c9bd6" stroke="#3c9bd6" stroke-width="0.35" text-anchor="middle">40%</text>
<text transform="matrix(1.08,0,0,1,-62.29,0)" x="778.65" y="926.5" font-size="23.5" fill="#3c9bd6" stroke="#3c9bd6" stroke-width="0.35" text-anchor="middle">35%</text>
<text transform="matrix(1.08,0,0,1,-68.60,0)" x="857.50" y="926.5" font-size="23.5" fill="#3c9bd6" stroke="#3c9bd6" stroke-width="0.35" text-anchor="middle">30%</text>
<text transform="matrix(1.08,0,0,1,-74.91,0)" x="936.35" y="926.5" font-size="23.5" fill="#3c9bd6" stroke="#3c9bd6" stroke-width="0.35" text-anchor="middle">30%</text>
<text transform="matrix(1.08,0,0,1,-81.22,0)" x="1015.20" y="926.5" font-size="23.5" fill="#3c9bd6" stroke="#3c9bd6" stroke-width="0.35" text-anchor="middle">35%</text>
<text transform="matrix(1.08,0,0,1,-87.52,0)" x="1094.05" y="926.5" font-size="23.5" fill="#3c9bd6" stroke="#3c9bd6" stroke-width="0.35" text-anchor="middle">40%</text>
</svg></body></html>
